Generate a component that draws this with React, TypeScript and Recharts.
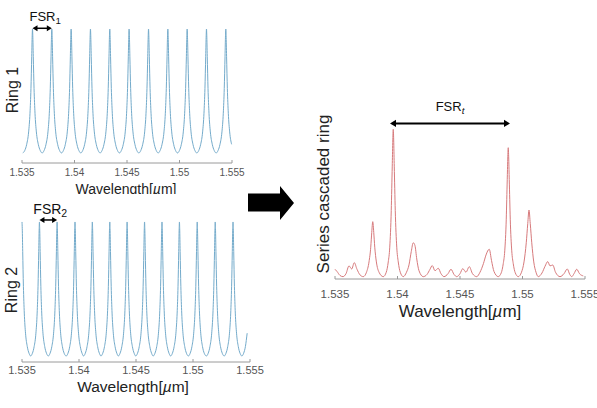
import React from "react"
import { LineChart, Line, XAxis, YAxis, ReferenceLine } from "recharts"

const wlTicks = [1.535, 1.54, 1.545, 1.55, 1.555]

// peak centres (um)
const ring1Peaks = [1.536, 1.53784, 1.53968, 1.54152, 1.54336, 1.5452, 1.54705, 1.54889, 1.55073, 1.55257, 1.55441]
const ring2Peaks = [1.535, 1.53653, 1.53808, 1.53965, 1.54117, 1.5427, 1.54422, 1.54575, 1.54728, 1.54881, 1.55037, 1.55195, 1.55351, 1.55506]
const ring1Fsr = 0.00184
const ring2Fsr = 0.001546
const ring1Range = [1.535, 1.555]
const ring2Range = [1.535, 1.5548]

// one period of a ring resonance, offsets in FSR units, level 0 = valley, 1 = peak
const shapeOffsets = [-0.5, -0.4, -0.3, -0.2, -0.13, -0.08, -0.04, -0.015, 0, 0.015, 0.04, 0.08, 0.13, 0.2, 0.3, 0.4]
const shapeLevels = [0, 0.02, 0.07, 0.17, 0.32, 0.52, 0.78, 0.95, 1, 0.95, 0.78, 0.52, 0.32, 0.17, 0.07, 0.02]

// cascaded response read point by point (main peak = 1)
const cascadeWl = [
  1.535, 1.53516, 1.5354, 1.53564, 1.53588, 1.53612, 1.53634, 1.53654, 1.53676, 1.537, 1.53726,
  1.53752, 1.53772, 1.53786, 1.53794, 1.53802, 1.5381, 1.53818, 1.53831, 1.53852, 1.53886,
  1.5391, 1.53926, 1.53938, 1.5395, 1.53958, 1.53966, 1.53974, 1.53982, 1.53994, 1.54006, 1.54022, 1.54046,
  1.54072, 1.54092, 1.5411, 1.54126, 1.5414, 1.54154, 1.54172, 1.54206,
  1.54236, 1.5426, 1.54278, 1.543, 1.54326, 1.54348, 1.54372, 1.54404, 1.54428, 1.54452, 1.54474,
  1.545, 1.54522, 1.54548, 1.54574, 1.546, 1.54634,
  1.5466, 1.54688, 1.54708, 1.54734, 1.54752, 1.54772, 1.54806,
  1.5483, 1.54846, 1.54858, 1.5487, 1.54878, 1.54886, 1.54894, 1.54902, 1.54914, 1.54926, 1.54942, 1.54966,
  1.54992, 1.55012, 1.5503, 1.55042, 1.55052, 1.55062, 1.55074, 1.5509, 1.55108, 1.55126,
  1.55156, 1.5518, 1.55202, 1.5522, 1.55242, 1.55264, 1.553,
  1.55332, 1.55358, 1.55378, 1.55394, 1.55412, 1.55434, 1.55456, 1.55486,
]
const cascadeVal = [
  0.05, 0.035, 0.008, 0, 0.02, 0.073, 0.052, 0.095, 0.05, 0.012, 0,
  0.03, 0.1, 0.2, 0.3, 0.373, 0.3, 0.2, 0.1, 0.03, 0,
  0.03, 0.1, 0.2, 0.45, 0.75, 1, 0.75, 0.45, 0.2, 0.1, 0.03, 0,
  0.03, 0.08, 0.17, 0.23, 0.21, 0.12, 0.04, 0,
  0.015, 0.05, 0.075, 0.04, 0.057, 0.02, 0, 0.02, 0.05, 0.015, 0,
  0.02, 0.054, 0.03, 0.068, 0.02, 0,
  0.03, 0.09, 0.147, 0.186, 0.11, 0.035, 0,
  0.026, 0.088, 0.175, 0.39, 0.66, 0.875, 0.66, 0.39, 0.175, 0.088, 0.026, 0,
  0.03, 0.1, 0.23, 0.36, 0.452, 0.36, 0.23, 0.1, 0.03, 0,
  0.025, 0.07, 0.102, 0.073, 0.079, 0.03, 0,
  0.02, 0.052, 0.015, 0, 0.02, 0.05, 0.02, 0.005,
]

// annotation spans (um)
const fsr1Span = [1.536, 1.53784]
const fsr2Span = [1.53653, 1.53808]
const fsrTSpan = [1.5394, 1.549]

const ringRows = (peaks: number[], fsr: number, range: number[]) => {
  const rows: { wl: number; v: number }[] = []
  peaks.forEach((p) => {
    shapeOffsets.forEach((d, i) => {
      const wl = p + d * fsr
      if (wl >= range[0] - 1e-9 && wl <= range[1]) rows.push({ wl, v: shapeLevels[i] })
    })
  })
  return rows
}

const ring1Data = ringRows(ring1Peaks, ring1Fsr, ring1Range)
const ring2Data = ringRows(ring2Peaks, ring2Fsr, ring2Range)
const cascadeData = cascadeWl.map((wl, i) => ({ wl, v: cascadeVal[i] }))

const font = "'Liberation Sans', Arial, sans-serif"
const blue = "#74abcb"
const red = "#d77a7c"
const axisGray = "#9a9a9a"

function spanArrow(sub: string, o: { font: number; lift: number; dx: number; head: number; width: number; italic?: boolean }) {
  return (p: any) => {
    const { x1, y1, x2 } = p
    const h = o.head
    const w = h * 0.6
    return (
      <g>
        <line x1={x1 + h * 0.8} y1={y1} x2={x2 - h * 0.8} y2={y1} stroke="#000" strokeWidth={o.width} />
        <polygon points={`${x1},${y1} ${x1 + h},${y1 - w} ${x1 + h},${y1 + w}`} fill="#000" />
        <polygon points={`${x2},${y1} ${x2 - h},${y1 - w} ${x2 - h},${y1 + w}`} fill="#000" />
        <text x={(x1 + x2) / 2 + o.dx} y={y1 - o.lift} textAnchor="middle" fontSize={o.font} fill="#111" fontFamily={font}>
          FSR
          <tspan dy={o.font * 0.25} fontSize={o.font * 0.75} fontStyle={o.italic ? "italic" : "normal"}>
            {sub}
          </tspan>
        </text>
      </g>
    )
  }
}

const label = (text: React.ReactNode, x: number, y: number, size: number, rotate = false) => (
  <div
    style={{
      position: "absolute",
      left: x,
      top: y,
      transform: `translate(-50%, -50%)${rotate ? " rotate(-90deg)" : ""}`,
      fontSize: size,
      lineHeight: 1,
      whiteSpace: "nowrap",
      color: "#222",
      fontFamily: font,
    }}
  >
    {text}
  </div>
)

const wlTitle = (
  <span>
    Wavelength[<i>µ</i>m]
  </span>
)

export default function App() {
  return (
    <div style={{ position: "absolute", left: 0, top: 0, width: 597, height: 408, background: "#fff", overflow: "hidden", fontFamily: font }}>
      {/* Ring 1 */}
      <div style={{ position: "absolute", left: 0, top: 0 }}>
        <LineChart width={250} height={194} data={ring1Data} margin={{ top: 18, right: 18, bottom: 11, left: 22 }}>
          <XAxis dataKey="wl" type="number" domain={[1.535, 1.555]} ticks={wlTicks} interval={0} height={20}
            stroke={axisGray} tickSize={-3} tickMargin={9} tick={{ fontSize: 10, fill: "#555" }} />
          <YAxis type="number" domain={[-0.081, 1.089]} allowDataOverflow width={0} tick={false} tickLine={false} stroke={axisGray} />
          <Line dataKey="v" type="monotone" stroke={blue} strokeWidth={1} dot={false} isAnimationActive={false} />
          <ReferenceLine segment={[{ x: fsr1Span[0], y: 1.006 }, { x: fsr1Span[1], y: 1.006 }]}
            shape={spanArrow("1", { font: 13, lift: 7.6, dx: 3, head: 5, width: 1.5 })} />
        </LineChart>
      </div>
      {label("Ring 1", 13, 90, 16, true)}
      {label(wlTitle, 126, 189, 14)}

      {/* Ring 2 */}
      <div style={{ position: "absolute", left: 0, top: 194, background: "#fff" }}>
        <LineChart width={272} height={214} data={ring2Data} margin={{ top: 19, right: 22, bottom: 26, left: 22 }}>
          <XAxis dataKey="wl" type="number" domain={[1.535, 1.555]} ticks={wlTicks} interval={0} height={20}
            stroke={axisGray} tickSize={-3} tickMargin={7} tick={{ fontSize: 11, fill: "#555" }} />
          <YAxis type="number" domain={[-0.045, 1.067]} allowDataOverflow width={0} tick={false} tickLine={false} stroke={axisGray} />
          <Line dataKey="v" type="monotone" stroke={blue} strokeWidth={1} dot={false} isAnimationActive={false} />
          <ReferenceLine segment={[{ x: fsr2Span[0], y: 1.015 }, { x: fsr2Span[1], y: 1.015 }]}
            shape={spanArrow("2", { font: 14, lift: 6, dx: 2, head: 5, width: 1.5 })} />
        </LineChart>
      </div>
      {label("Ring 2", 12, 290, 16, true)}
      {label(wlTitle, 133, 387, 15.5)}

      {/* cascaded */}
      <div style={{ position: "absolute", left: 300, top: 100 }}>
        <LineChart width={297} height={200} data={cascadeData} margin={{ top: 15, right: 12, bottom: 1, left: 35 }}>
          <XAxis dataKey="wl" type="number" domain={[1.535, 1.555]} ticks={wlTicks} interval={0} height={20}
            stroke={axisGray} tickSize={-3} tickMargin={14} tick={{ fontSize: 11.5, fill: "#555" }} />
          <YAxis type="number" domain={[-0.016, 1.097]} allowDataOverflow width={0} tick={false} tickLine={false} stroke={axisGray} />
          <Line dataKey="v" type="monotone" stroke={red} strokeWidth={1} dot={false} isAnimationActive={false} />
          <ReferenceLine segment={[{ x: fsrTSpan[0], y: 1.04 }, { x: fsrTSpan[1], y: 1.04 }]}
            shape={spanArrow("t", { font: 13, lift: 12.6, dx: 0, head: 6, width: 2, italic: true })} />
        </LineChart>
      </div>
      {label("Series cascaded ring", 323, 194, 17, true)}
      {label(wlTitle, 460, 311, 17)}

      {/* block arrow between panels */}
      <svg width={597} height={408} style={{ position: "absolute", left: 0, top: 0, pointerEvents: "none" }}>
        <polygon points="248,193.5 280,193.5 280,186 294,203 280,220 280,211.5 248,211.5" fill="#000" />
      </svg>
    </div>
  )
}
